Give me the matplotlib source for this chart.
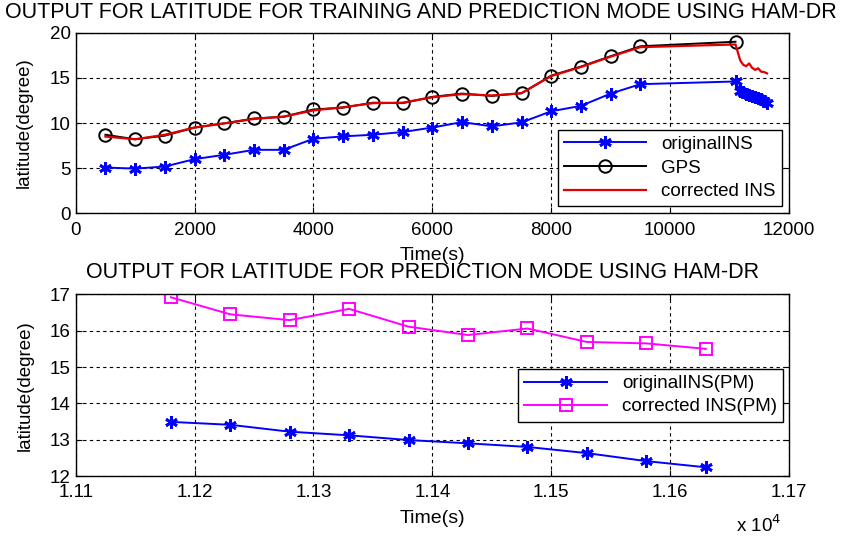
import matplotlib
matplotlib.use("Agg")
import matplotlib.pyplot as plt
import numpy as np

plt.rcParams['font.family'] = ['Liberation Sans', 'DejaVu Sans']

# training mode (top panel)
t_train = [500, 1000, 1500, 2000, 2500, 3000, 3500, 4000, 4500, 5000,
           5500, 6000, 6500, 7000, 7500, 8000, 8500, 9000, 9500, 11100]
orig_train = [5.07, 4.95, 5.18, 6.0, 6.48, 7.03, 7.03, 8.26, 8.52, 8.7,
              9.0, 9.5, 10.1, 9.63, 10.07, 11.3, 11.9, 13.26, 14.3, 14.6]
gps_train = [8.7, 8.2, 8.6, 9.5, 9.96, 10.5, 10.7, 11.5, 11.7, 12.25,
             12.2, 12.9, 13.26, 13.0, 13.3, 15.25, 16.25, 17.4, 18.5, 19.0]
corr_train = [8.5, 8.2, 8.7, 9.5, 9.96, 10.45, 10.7, 11.4, 11.75, 12.2,
              12.25, 12.85, 13.2, 13.05, 13.3, 15.2, 16.2, 17.35, 18.4, 18.7]

# prediction mode (bottom panel)
t_pred = [11180, 11230, 11280, 11330, 11380, 11430, 11480, 11530, 11580, 11630]
orig_pred = [13.49, 13.41, 13.22, 13.12, 12.99, 12.9, 12.8, 12.63, 12.41, 12.24]
corr_pred = [16.92, 16.45, 16.29, 16.6, 16.11, 15.88, 16.06, 15.69, 15.65, 15.5]

star = (6, 2, 0)  # matlab-like asterisk

fig = plt.figure(figsize=(8.64, 5.38), dpi=100)
ax1 = fig.add_axes([0.0876, 0.6035, 0.8256, 0.3357])
ax2 = fig.add_axes([0.0876, 0.1152, 0.8256, 0.3377])

ax1.plot(t_train + t_pred, orig_train + orig_pred, color='#0000ff', marker=star,
         markersize=9, markeredgewidth=2, lw=1.4, label='originalINS')
ax1.plot(t_train, gps_train, color='black', marker='o', markersize=9,
         markerfacecolor='none', markeredgewidth=1.4, lw=1.4, label='GPS')
ax1.plot(t_train + t_pred, corr_train + corr_pred, color='#e00000', lw=1.6,
         label='corrected INS')
ax1.set_xlim(0, 12000)
ax1.set_ylim(0, 20)
ax1.set_xticks(np.arange(0, 12001, 2000))
ax1.set_yticks(np.arange(0, 21, 5))
ax1.set_xlabel('Time(s)', fontsize=14, labelpad=6)
ax1.set_ylabel('latitude(degree)', fontsize=13.5, labelpad=12)
ax1.legend(loc='lower right', fontsize=13.5, frameon=True, fancybox=False,
           edgecolor='black', framealpha=1, handlelength=4.4,
           borderaxespad=0.4, labelspacing=0.35, borderpad=0.3)

ax2.plot(np.array(t_pred) / 1e4, orig_pred, color='#0000ff', marker=star,
         markersize=9, markeredgewidth=2, lw=1.4, label='originalINS(PM)')
ax2.plot(np.array(t_pred) / 1e4, corr_pred, color='#ff00ff', marker='s',
         markersize=9, markerfacecolor='none', markeredgewidth=1.4, lw=1.4,
         label='corrected INS(PM)')
ax2.set_xlim(1.11, 1.17)
ax2.set_ylim(12, 17)
ax2.set_xticks(np.arange(1.11, 1.1701, 0.01))
ax2.set_xticklabels(['1.11', '1.12', '1.13', '1.14', '1.15', '1.16', '1.17'])
ax2.set_yticks(np.arange(12, 17.1, 1))
ax2.set_xlabel('Time(s)', fontsize=14, labelpad=6)
ax2.set_ylabel('latitude(degree)', fontsize=13.5, labelpad=12)
ax2.legend(loc='center right', bbox_to_anchor=(1.0, 0.445), fontsize=13.5,
           frameon=True, fancybox=False, edgecolor='black', framealpha=1,
           handlelength=4.4, borderaxespad=0.3, labelspacing=0.3, borderpad=0.35)
fig.text(0.852, 0.024, r'x 10$^4$', fontsize=13.5, ha='left', va='center')

for ax in (ax1, ax2):
    ax.grid(True, color='black', linestyle=(0, (3, 3)), linewidth=0.8)
    ax.tick_params(direction='in', length=4, labelsize=13.5, top=True, right=True)
    ax.tick_params(axis='x', pad=6)
    for s in ax.spines.values():
        s.set_linewidth(1.0)

fig.text(0.006, 0.976, 'OUTPUT FOR LATITUDE FOR TRAINING AND PREDICTION MODE USING HAM-DR',
         fontsize=15.5, ha='left', va='center')
fig.text(0.1, 0.4926, 'OUTPUT FOR LATITUDE FOR PREDICTION MODE USING HAM-DR',
         fontsize=15.5, ha='left', va='center')

fig.savefig('out.png', dpi=100)
